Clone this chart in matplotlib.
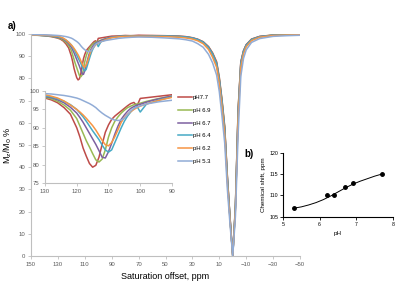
import numpy as np
import matplotlib
matplotlib.use("Agg")
import matplotlib.pyplot as plt

plt.rcParams['font.family'] = ['Liberation Sans', 'DejaVu Sans']

# saturation offsets (ppm), common grid for all spectra
offsets = [150, 145, 140, 135, 130, 128, 126, 124, 122, 120, 119, 118, 117, 116, 115,
           114, 113, 112, 111, 110, 109, 108, 107, 106, 105, 104, 103, 102, 101, 100,
           98, 96, 94, 92, 90, 85, 80, 75, 70, 60, 50, 40, 35, 30, 26, 22, 18, 15, 12,
           10, 8, 6, 4, 2, 0, -2, -4, -6, -8, -10, -14, -20, -30, -40, -50]

z_ph77 = [99.6, 99.5, 99.2, 98.8, 98.1, 97.6, 96.8, 95.5, 93.7, 90.0, 87.5, 84.5, 82.3, 80.3, 79.3,
          79.8, 82.0, 85.5, 88.8, 90.8, 92.3, 93.2, 93.9, 94.6, 95.3, 96.0, 96.6, 96.9, 96.0, 98.0,
          98.2, 98.4, 98.6, 98.8, 99.0, 99.1, 99.3, 99.2, 99.4, 99.3, 99.2, 99.0, 98.8, 98.3, 97.6, 96.5, 94.3, 91.5, 87.5,
          80.5, 70.5, 58.5, 36, 17, 0, 23, 66, 87.5, 92.5, 95.2, 97.7, 98.9, 99.5, 99.7, 99.8]
z_ph69 = [99.4, 99.4, 99.2, 98.9, 98.3, 97.9, 97.2, 96.2, 94.8, 92.5, 90.5, 88.5, 86.5, 84.8, 83.0,
          81.3, 80.7, 81.5, 84.0, 87.5, 90.0, 91.8, 93.0, 94.0, 94.8, 95.5, 95.9, 96.3, 96.5, 96.7,
          97.2, 97.6, 98.0, 98.3, 98.6, 98.9, 99.1, 99.2, 99.1, 99.2, 99.1, 98.9, 98.7, 98.2, 97.5, 96.4, 94.1, 91.2, 87.0,
          80.0, 70.0, 58.0, 35.5, 17, 0, 23, 66, 87, 92.3, 95.0, 97.6, 98.8, 99.5, 99.7, 99.8]
z_ph67 = [99.5, 99.4, 99.3, 99.0, 98.5, 98.2, 97.6, 96.8, 95.6, 94.0, 92.8, 91.5, 90.0, 88.5, 87.0,
          85.5, 83.8, 82.0, 81.8, 83.5, 85.8, 88.3, 90.5, 92.3, 93.5, 94.5, 95.3, 95.8, 96.2, 96.4,
          97.0, 97.5, 97.9, 98.3, 98.6, 98.9, 99.0, 99.2, 99.2, 99.1, 99.0, 98.9, 98.7, 98.2, 97.5, 96.3, 94.0, 91.0, 86.8,
          79.5, 69.5, 57.5, 35, 17, 0, 22, 65, 87, 92.2, 95.0, 97.5, 98.8, 99.4, 99.6, 99.7]
z_ph64 = [99.5, 99.4, 99.3, 99.1, 98.7, 98.4, 97.9, 97.2, 96.3, 95.0, 94.0, 93.0, 91.8, 90.5, 89.2,
          88.0, 86.8, 85.3, 84.0, 83.4, 84.0, 86.0, 88.0, 90.0, 91.8, 93.2, 94.3, 95.3, 95.8, 94.3,
          96.5, 97.0, 97.6, 98.0, 98.4, 98.8, 99.0, 99.1, 99.0, 99.1, 99.0, 98.8, 98.6, 98.1, 97.4, 96.2, 93.8, 90.8, 86.5,
          79.0, 69.0, 57.0, 35, 16.5, 0, 22, 64, 86.5, 92, 94.8, 97.4, 98.7, 99.4, 99.6, 99.7]
z_ph62 = [99.5, 99.5, 99.4, 99.2, 99.0, 98.6, 98.1, 97.3, 96.2, 95.0, 94.3, 93.5, 92.6, 91.6, 90.6,
          89.4, 88.0, 86.6, 85.4, 85.1, 86.0, 87.6, 89.5, 91.5, 92.8, 93.7, 94.4, 95.0, 95.5, 95.9,
          96.5, 97.0, 97.5, 97.9, 98.3, 98.7, 98.9, 99.0, 99.0, 98.9, 98.8, 98.5, 98.2, 97.7, 96.9, 95.6, 93.0, 89.5, 85.0,
          77.5, 67.0, 55.0, 33, 16, 0, 21, 62, 85, 91, 94.2, 97.0, 98.5, 99.3, 99.5, 99.6]
z_ph53 = [99.7, 99.7, 99.6, 99.5, 99.3, 99.2, 99.0, 98.8, 98.5, 98.1, 97.8, 97.4, 97.0, 96.6, 96.1,
          95.5, 94.7, 94.0, 93.4, 92.9, 92.4, 92.1, 92.0, 92.1, 92.6, 93.6, 94.6, 95.3, 95.7, 96.0,
          96.5, 96.8, 97.1, 97.3, 97.5, 98.0, 98.3, 98.5, 98.6, 98.5, 98.2, 97.8, 97.4, 96.8, 95.6, 94.0, 90.8, 87.0, 81.5,
          74.0, 63.0, 51.0, 30, 14, 0, 18, 55, 81, 89, 92.8, 96.2, 97.9, 98.9, 99.2, 99.4]

labels = ['pH7.7', 'pH 6.9', 'pH 6.7', 'pH 6.4', 'pH 6.2', 'pH 5.3']
colors = ['#BE4B48', '#98B954', '#7D60A0', '#46AAC5', '#F69544', '#91ACD6']
spectra = [z_ph77, z_ph69, z_ph67, z_ph64, z_ph62, z_ph53]

ph = [5.3, 6.2, 6.4, 6.7, 6.9, 7.7]
shift = [107, 110, 110, 112, 113, 115]
fit_ph = [5.3, 5.5, 5.7, 5.9, 6.1, 6.3, 6.5, 6.7, 6.9, 7.1, 7.3, 7.5, 7.7]
fit_shift = [107.0, 107.3, 107.75, 108.3, 109.0, 109.85, 110.8, 111.75, 112.6, 113.3, 113.9, 114.5, 115.0]

grey = '#595959'
axc = '#BFBFBF'

fig = plt.figure(figsize=(4, 2.9), dpi=100)


def excel_axes(ax):
    for s in ['top', 'right']:
        ax.spines[s].set_visible(False)
    for s in ['left', 'bottom']:
        ax.spines[s].set_color(axc)
        ax.spines[s].set_linewidth(0.8)
    ax.tick_params(colors=axc, labelcolor=grey, labelsize=4.3, length=2, width=0.6, pad=2)


ax = fig.add_axes([0.0775, 0.117, 0.6725, 0.766])
for z, c in zip(spectra, colors):
    ax.plot(offsets, z, color=c, lw=1.1)
ax.set_xlim(150, -50)
ax.set_ylim(0, 100)
ax.set_xticks(np.arange(150, -51, -20))
ax.set_yticks(np.arange(0, 101, 10))
excel_axes(ax)
ax.set_xlabel('Saturation offset, ppm', fontsize=6.5, labelpad=4)
ax.set_ylabel(r'M$_{\rm z}$/M$_{\rm 0}$ %', fontsize=6.5, labelpad=1)

ins = fig.add_axes([0.1125, 0.369, 0.3175, 0.317])
lines = []
for z, c, lab in zip(spectra, colors, labels):
    ln, = ins.plot(offsets, z, color=c, lw=1.1, label=lab)
    lines.append(ln)
ins.set_xlim(130, 90)
ins.set_ylim(75, 100)
ins.set_xticks([130, 120, 110, 100, 90])
ins.set_yticks([75, 80, 85, 90, 95, 100])
excel_axes(ins)
fig.legend(handles=lines, loc='upper left', bbox_to_anchor=(0.44, 0.68),
           frameon=False, fontsize=4.3, handlelength=2.2, labelspacing=1.25,
           handletextpad=0.2, borderaxespad=0)

fig.text(0.02, 0.9, 'a)', fontsize=7, fontweight='bold')
fig.text(0.612, 0.458, 'b)', fontsize=7, fontweight='bold')

bx = fig.add_axes([0.7075, 0.2528, 0.275, 0.2207])
bx.plot(fit_ph, fit_shift, color='black', lw=0.7)
bx.plot(ph, shift, 'o', color='black', ms=2.5)
bx.set_xlim(5, 8)
bx.set_ylim(105, 120)
bx.set_xticks([5, 6, 7, 8])
bx.set_yticks([105, 110, 115, 120])
for s in ['top', 'right']:
    bx.spines[s].set_visible(False)
for s in ['left', 'bottom']:
    bx.spines[s].set_linewidth(0.8)
bx.tick_params(labelsize=3.8, length=2, width=0.6, pad=1.5)
bx.set_xlabel('pH', fontsize=4.5, labelpad=3)
bx.set_ylabel('Chemical shift, ppm', fontsize=4.5, labelpad=2)

fig.savefig('out.png', dpi=100)
